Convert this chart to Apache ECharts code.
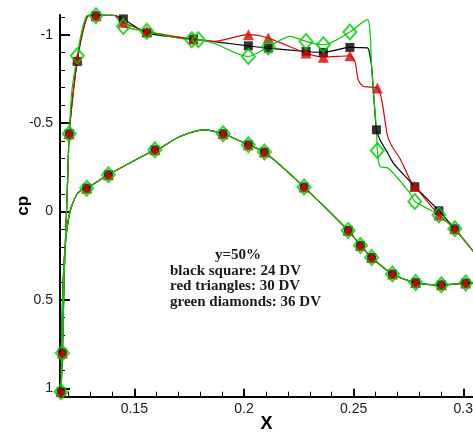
<!DOCTYPE html>
<html>
<head>
<meta charset="utf-8">
<title>cp distribution, y=50%</title>
<script src="https://cdn.jsdelivr.net/npm/echarts@6/dist/echarts.min.js"></script>
<style>
  html, body { margin: 0; padding: 0; background: #fff; }
  #chart { width: 473px; height: 432px; }
</style>
</head>
<body>
<div id="chart"></div>
<script>
// Axis ticks
const xTicks = [0.15, 0.2, 0.25, 0.3];
const xMinorTicks = [0.12, 0.13, 0.14, 0.16, 0.17, 0.18, 0.19, 0.21, 0.22, 0.23, 0.24, 0.26, 0.27, 0.28, 0.29];
const cpTicks = [-1, -0.5, 0, 0.5, 1];
const cpMinorTicks = [-1.1, -0.9, -0.8, -0.7, -0.6, -0.4, -0.3, -0.2, -0.1, 0.1, 0.2, 0.3, 0.4, 0.6, 0.7, 0.8, 0.9];

// Leading edge, upper side of the nose down to the stagnation point
const noseCurve = [
  [0.1199, -0.30], [0.1195, -0.14], [0.1188, 0.10], [0.1181, 0.33],
  [0.1176, 0.61], [0.1172, 0.80], [0.1166, 1.02]
];

// Lower surface, stagnation point to trailing edge (all three designs coincide)
const lowerCurve = [
  [0.1168, 0.80], [0.1172, 0.55], [0.1178, 0.33], [0.1188, 0.15], [0.1200, 0.04],
  [0.1207, 0.00], [0.1214, -0.03], [0.1237, -0.095], [0.1260, -0.123], [0.1283, -0.132],
  [0.1382, -0.208], [0.1594, -0.349], [0.1618, -0.359], [0.1708, -0.424], [0.1815, -0.462],
  [0.1905, -0.440], [0.2020, -0.377], [0.2093, -0.336], [0.2274, -0.138], [0.2475, 0.107],
  [0.2531, 0.192], [0.2582, 0.260], [0.2677, 0.354], [0.2783, 0.402], [0.2900, 0.415],
  [0.3011, 0.405], [0.3050, 0.404]
];
const lowerMarkers = [
  [0.1172, 0.80], [0.1166, 1.02], [0.1283, -0.132], [0.1382, -0.208], [0.1594, -0.349],
  [0.1905, -0.440], [0.2020, -0.377], [0.2093, -0.336], [0.2274, -0.138], [0.2475, 0.107],
  [0.2531, 0.192], [0.2582, 0.260], [0.2677, 0.354], [0.2783, 0.402], [0.2900, 0.415],
  [0.3011, 0.405]
];

// Upper surface, 24 design variables
const blackUpper = [
  [0.1203, -0.44], [0.1222, -0.68], [0.1240, -0.849], [0.1262, -1.0], [0.1290, -1.108],
  [0.1325, -1.112], [0.1406, -1.11], [0.1450, -1.089], [0.1557, -1.01], [0.1770, -0.975],
  [0.1900, -0.955], [0.2020, -0.937], [0.2111, -0.924], [0.2283, -0.905], [0.2362, -0.90],
  [0.2483, -0.928], [0.2563, -0.925], [0.2575, -0.877], [0.2582, -0.82], [0.2593, -0.632],
  [0.2604, -0.462], [0.2620, -0.406], [0.2651, -0.34], [0.2681, -0.274], [0.2742, -0.19],
  [0.2779, -0.14], [0.2889, -0.004], [0.2961, 0.098], [0.3050, 0.232]
];
const blackUpperMarkers = [
  [0.1203, -0.44], [0.1240, -0.849], [0.1325, -1.107], [0.1450, -1.089], [0.1557, -1.01],
  [0.1770, -0.975], [0.2020, -0.937], [0.2111, -0.924], [0.2283, -0.905], [0.2362, -0.90],
  [0.2483, -0.928], [0.2604, -0.462], [0.2779, -0.14], [0.2889, -0.004], [0.2961, 0.098]
];

// Upper surface, 30 design variables
const redUpper = [
  [0.1203, -0.44], [0.1222, -0.68], [0.1240, -0.862], [0.1262, -1.0], [0.1290, -1.108],
  [0.1325, -1.112], [0.1406, -1.11], [0.1450, -1.07], [0.1557, -1.019], [0.1770, -0.975],
  [0.1860, -0.962], [0.2020, -1.0], [0.2111, -0.981], [0.2283, -0.896], [0.2362, -0.873],
  [0.2483, -0.881], [0.2506, -0.849], [0.2521, -0.745], [0.2544, -0.707], [0.2575, -0.704],
  [0.2608, -0.698], [0.2628, -0.632], [0.2654, -0.43], [0.2674, -0.37], [0.2711, -0.30],
  [0.2757, -0.18], [0.2779, -0.142], [0.2889, 0.02], [0.2961, 0.098], [0.3050, 0.232]
];
const redUpperMarkers = [
  [0.1203, -0.44], [0.1240, -0.862], [0.1325, -1.107], [0.1450, -1.07], [0.1557, -1.019],
  [0.1770, -0.975], [0.2020, -1.0], [0.2111, -0.981], [0.2283, -0.896], [0.2362, -0.873],
  [0.2483, -0.881], [0.2608, -0.698], [0.2779, -0.142], [0.2889, 0.02], [0.2961, 0.098]
];

// Upper surface, 36 design variables
const greenUpper = [
  [0.1203, -0.44], [0.1215, -0.68], [0.1240, -0.881], [0.1257, -1.0], [0.1285, -1.108],
  [0.1325, -1.112], [0.1406, -1.11], [0.1450, -1.047], [0.1557, -1.019], [0.1762, -0.971],
  [0.1792, -0.971], [0.1860, -0.953], [0.2020, -0.877], [0.2111, -0.93], [0.2210, -0.99],
  [0.2283, -0.962], [0.2362, -0.943], [0.2483, -1.015], [0.2563, -1.085], [0.2575, -1.01],
  [0.2582, -0.82], [0.2593, -0.632], [0.2605, -0.443], [0.2608, -0.345], [0.2620, -0.255],
  [0.2658, -0.245], [0.2757, -0.104], [0.2779, -0.057], [0.2833, -0.019], [0.2889, 0.02],
  [0.2961, 0.098], [0.3050, 0.232]
];
const greenUpperMarkers = [
  [0.1203, -0.44], [0.1240, -0.881], [0.1325, -1.107], [0.1450, -1.047], [0.1557, -1.019],
  [0.1762, -0.971], [0.1792, -0.971], [0.2020, -0.877], [0.2111, -0.93], [0.2283, -0.962],
  [0.2362, -0.943], [0.2483, -1.015], [0.2608, -0.345], [0.2779, -0.057], [0.2889, 0.02],
  [0.2961, 0.098]
];

const annotation = [
  'y=50%',
  'black square: 24 DV',
  'red triangles: 30 DV',
  'green diamonds: 36 DV'
];

const BLACK = '#000000';
const RED = '#e00000';
const GREEN = '#00cc00';

// One closed trace: trailing edge (upper) -> nose -> trailing edge (lower)
function fullTrace(upper) {
  return upper.slice().reverse().concat(noseCurve, lowerCurve);
}

function lineSeries(name, upper, color, z) {
  return {
    name: name, type: 'line', data: fullTrace(upper),
    showSymbol: false, smooth: 0.25, z: z,
    lineStyle: { color: color, width: 1.2 },
    emphasis: { disabled: true }, animation: false
  };
}

function markerSeries(name, data, symbol, size, itemStyle, z) {
  return {
    name: name, type: 'scatter', data: data, symbol: symbol, symbolSize: size,
    itemStyle: itemStyle, z: z, emphasis: { disabled: true }, animation: false
  };
}

const xRange = { min: 0.11612, max: 0.30442 };
const cpRange = { min: -1.1114, max: 1.0475 };
const labelFont = { fontFamily: 'Liberation Sans, Arial, sans-serif', fontSize: 14, color: '#1a1a1a' };

const chart = echarts.init(document.getElementById('chart'), null, { renderer: 'canvas' });

chart.setOption({
  animation: false,
  backgroundColor: '#ffffff',
  grid: { left: 60, right: 0, top: 15, bottom: 35.3, outerBoundsMode: 'none' },
  xAxis: [
    {
      type: 'value', min: xRange.min, max: xRange.max,
      axisLine: { show: true, onZero: false, lineStyle: { color: '#000', width: 2 } },
      axisTick: { show: true, inside: true, length: 8, customValues: xTicks, lineStyle: { color: '#000', width: 2 } },
      axisLabel: Object.assign({ customValues: xTicks, margin: 5 }, labelFont),
      splitLine: { show: false },
      name: 'X', nameLocation: 'middle', nameGap: 18, nameMoveOverlap: false,
      nameTextStyle: { fontFamily: 'Liberation Sans, Arial, sans-serif', fontSize: 18, fontWeight: 'bold', color: '#000' }
    },
    {
      type: 'value', min: xRange.min, max: xRange.max, position: 'bottom',
      axisLine: { show: false, onZero: false },
      axisTick: { show: true, inside: true, length: 5, customValues: xMinorTicks, lineStyle: { color: '#000', width: 1 } },
      axisLabel: { show: false },
      splitLine: { show: false }
    }
  ],
  yAxis: [
    {
      type: 'value', inverse: true, min: cpRange.min, max: cpRange.max,
      axisLine: { show: true, onZero: false, lineStyle: { color: '#000', width: 2 } },
      axisTick: { show: true, inside: true, length: 10, customValues: cpTicks, lineStyle: { color: '#000', width: 2 } },
      axisLabel: Object.assign({ customValues: cpTicks, margin: 7 }, labelFont),
      splitLine: { show: false },
      name: 'cp', nameLocation: 'middle', nameGap: 28, nameRotate: 90, nameMoveOverlap: false,
      nameTextStyle: { fontFamily: 'Liberation Sans, Arial, sans-serif', fontSize: 17, fontWeight: 'bold', color: '#000' }
    },
    {
      type: 'value', inverse: true, min: cpRange.min, max: cpRange.max, position: 'left',
      axisLine: { show: false, onZero: false },
      axisTick: { show: true, inside: true, length: 5, customValues: cpMinorTicks, lineStyle: { color: '#000', width: 1 } },
      axisLabel: { show: false },
      splitLine: { show: false }
    }
  ],
  series: [
    lineSeries('24 DV', blackUpper, BLACK, 2),
    lineSeries('30 DV', redUpper, RED, 3),
    lineSeries('36 DV', greenUpper, GREEN, 4),
    markerSeries('24 DV markers', blackUpperMarkers.concat(lowerMarkers), 'rect', 9, { color: BLACK }, 5),
    markerSeries('30 DV markers', redUpperMarkers.concat(lowerMarkers), 'triangle', 11, { color: RED }, 6),
    markerSeries('36 DV markers', greenUpperMarkers.concat(lowerMarkers), 'diamond', [13, 15],
      { color: 'rgba(0,0,0,0)', borderColor: GREEN, borderWidth: 2 }, 7)
  ],
  graphic: annotation.map(function (line, i) {
    return {
      type: 'text',
      left: i === 0 ? 215 : 170,
      top: 248 + i * 15.5,
      style: {
        text: line,
        font: 'bold 15px "Liberation Serif", "Times New Roman", serif',
        fill: '#1a1a1a'
      },
      z: 10
    };
  })
});
</script>
</body>
</html>
